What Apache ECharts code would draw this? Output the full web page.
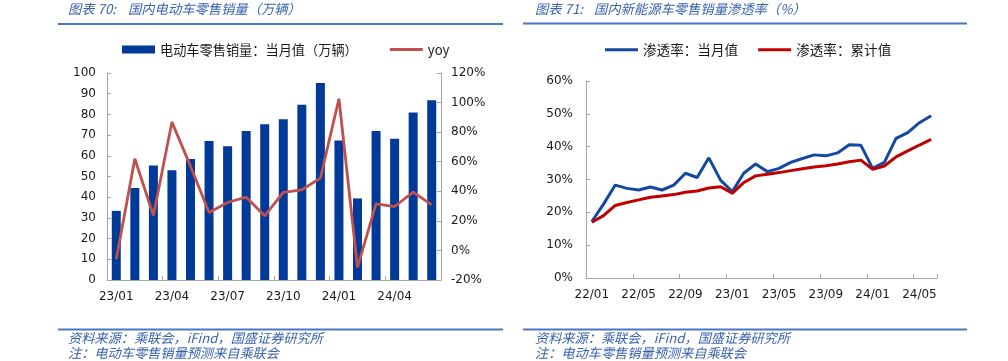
<!DOCTYPE html>
<html><head><meta charset="utf-8">
<script src="https://cdn.jsdelivr.net/npm/echarts@6/dist/echarts.min.js"></script>
<style>html,body{margin:0;padding:0;background:#fff}#c{width:1008px;height:361px}</style>
</head><body><div id="c"></div>
<script>
// ---- Chart 70 data ----
const months1 = ['23/01','23/02','23/03','23/04','23/05','23/06','23/07','23/08','23/09','23/10','23/11','23/12','24/01','24/02','24/03','24/04','24/05','24/06'];
const salesMonthly = [33.4,44.4,55.3,53.0,58.5,67.2,64.6,72.0,75.3,77.7,84.7,95.2,67.4,39.4,72.0,68.2,80.9,86.8];
const yoy = [-6.0,62.0,23.6,86.8,57.0,25.6,32.4,36.0,23.4,39.2,41.0,48.9,102.6,-11.4,31.5,29.7,39.4,30.8];
const leftTicks = {min:0,max:100,interval:10};
const rightTicks = {min:-20,max:120,interval:20};

// ---- Chart 71 data ----
const months2 = ['22/01','22/02','22/03','22/04','22/05','22/06','22/07','22/08','22/09','22/10','22/11','22/12',
                 '23/01','23/02','23/03','23/04','23/05','23/06','23/07','23/08','23/09','23/10','23/11','23/12',
                 '24/01','24/02','24/03','24/04','24/05','24/06'];
const penMonthly = [17.2,22.5,28.3,27.3,26.8,27.7,26.8,28.3,31.9,30.6,36.6,29.8,26.3,32.0,34.7,32.4,33.4,35.2,36.4,37.5,37.2,38.1,40.6,40.4,33.4,35.2,42.5,44.3,47.3,49.4];
const penCumulative = [17.0,19.0,22.1,23.0,23.8,24.6,25.0,25.4,26.1,26.5,27.4,27.8,25.8,29.1,31.1,31.6,32.1,32.7,33.3,33.8,34.2,34.7,35.4,35.9,33.1,34.1,36.9,38.7,40.5,42.2];
const penTicks = {min:0,max:60,interval:10};

const titleLa = '图表 70:', titleLb = '国内电动车零售销量（万辆）';
const titleRa = '图表 71:', titleRb = '国内新能源车零售销量渗透率（%）';
const src1 = '资料来源：乘联会，iFind，国盛证券研究所';
const src2 = '注：电动车零售销量预测来自乘联会';
const nBar = '电动车零售销量：当月值（万辆）';
const nYoy = 'yoy';
const nPM = '渗透率：当月值';
const nPC = '渗透率：累计值';

const blueTxt = '#3a63ad';
const axisCol = '#a6a6a6';
const lblFont = {color:'#1a1a1a', fontSize:12, fontFamily:'DejaVu Sans'};
const cjk = '"Noto Sans CJK SC"';
const lineIcon = 'path://M0,0L100,0L100,9L0,9Z';

const chart = echarts.init(document.getElementById('c'), null, {renderer:'canvas'});
const axBase = {
  axisLine:{show:true,lineStyle:{color:axisCol,width:1}},
  axisTick:{show:true,inside:true,length:4,lineStyle:{color:axisCol}},
  splitLine:{show:false},
  axisLabel:Object.assign({},lblFont)
};
function hline(x1,x2,y){return {type:'line',shape:{x1:x1,y1:y,x2:x2,y2:y},style:{stroke:'#4a76c2',lineWidth:2},silent:true};}
function txt(x,y,t,size,italic){return {type:'text',x:x,y:y,style:{text:t,fill:blueTxt,font:(italic?'italic ':'')+size+'px '+cjk,textVerticalAlign:'middle'},silent:true};}

chart.setOption({
  animation:false,
  backgroundColor:'#fff',
  grid:[
    {left:107,right:567,top:73,bottom:81,containLabel:false},
    {left:586,right:71,top:81,bottom:83,containLabel:false}
  ],
  legend:[
    {data:[{name:nBar,icon:'rect'},{name:nYoy,icon:lineIcon}],left:117,top:38,itemWidth:33,itemHeight:8,itemGap:32,
     textStyle:{fontSize:13.2,fontFamily:cjk,color:'#1a1a1a'}},
    {data:[{name:nPM,icon:lineIcon},{name:nPC,icon:lineIcon}],left:600,top:38,itemWidth:33,itemHeight:8,itemGap:20,
     textStyle:{fontSize:13.6,fontFamily:cjk,color:'#1a1a1a'}}
  ],
  xAxis:[
    Object.assign({},axBase,{type:'category',gridIndex:0,data:months1,boundaryGap:true,
      axisTick:Object.assign({},axBase.axisTick,{interval:2}),
      axisLabel:Object.assign({},lblFont,{interval:2,margin:11})}),
    Object.assign({},axBase,{type:'category',gridIndex:1,data:months2,boundaryGap:true,
      axisTick:Object.assign({},axBase.axisTick,{interval:3}),
      axisLabel:Object.assign({},lblFont,{interval:3,margin:11})})
  ],
  yAxis:[
    Object.assign({},axBase,{type:'value',gridIndex:0,position:'left',min:leftTicks.min,max:leftTicks.max,interval:leftTicks.interval,
      axisLabel:Object.assign({},lblFont,{margin:11})}),
    Object.assign({},axBase,{type:'value',gridIndex:0,position:'right',min:rightTicks.min,max:rightTicks.max,interval:rightTicks.interval,
      axisLabel:Object.assign({},lblFont,{margin:10,formatter:'{value}%'})}),
    Object.assign({},axBase,{type:'value',gridIndex:1,min:penTicks.min,max:penTicks.max,interval:penTicks.interval,
      axisLabel:Object.assign({},lblFont,{margin:13,formatter:'{value}%'})})
  ],
  series:[
    {name:nBar,type:'bar',xAxisIndex:0,yAxisIndex:0,data:salesMonthly,barWidth:9,itemStyle:{color:'#003a99'}},
    {name:nYoy,type:'line',xAxisIndex:0,yAxisIndex:1,data:yoy,symbol:'none',lineStyle:{color:'#c0504d',width:2.8},itemStyle:{color:'#c0504d'}},
    {name:nPM,type:'line',xAxisIndex:1,yAxisIndex:2,data:penMonthly,symbol:'none',lineStyle:{color:'#1349a0',width:3},itemStyle:{color:'#1349a0'}},
    {name:nPC,type:'line',xAxisIndex:1,yAxisIndex:2,data:penCumulative,symbol:'none',lineStyle:{color:'#c00000',width:3},itemStyle:{color:'#c00000'}}
  ],
  graphic:[
    txt(68,9,titleLa,13.3,true),
    txt(128,9,titleLb,13.3,true),
    txt(535,9,titleRa,13.3,true),
    txt(594,9,titleRb,13.3,true),
    hline(58,503,24),
    hline(523,967,23.5),
    hline(58,503,329.5),
    hline(523,967,329.5),
    txt(68,338,src1,13.2,true),
    txt(68,353,src2,13.2,true),
    txt(535,338,src1,13.2,true),
    txt(535,353,src2,13.2,true)
  ]
});
</script></body></html>
